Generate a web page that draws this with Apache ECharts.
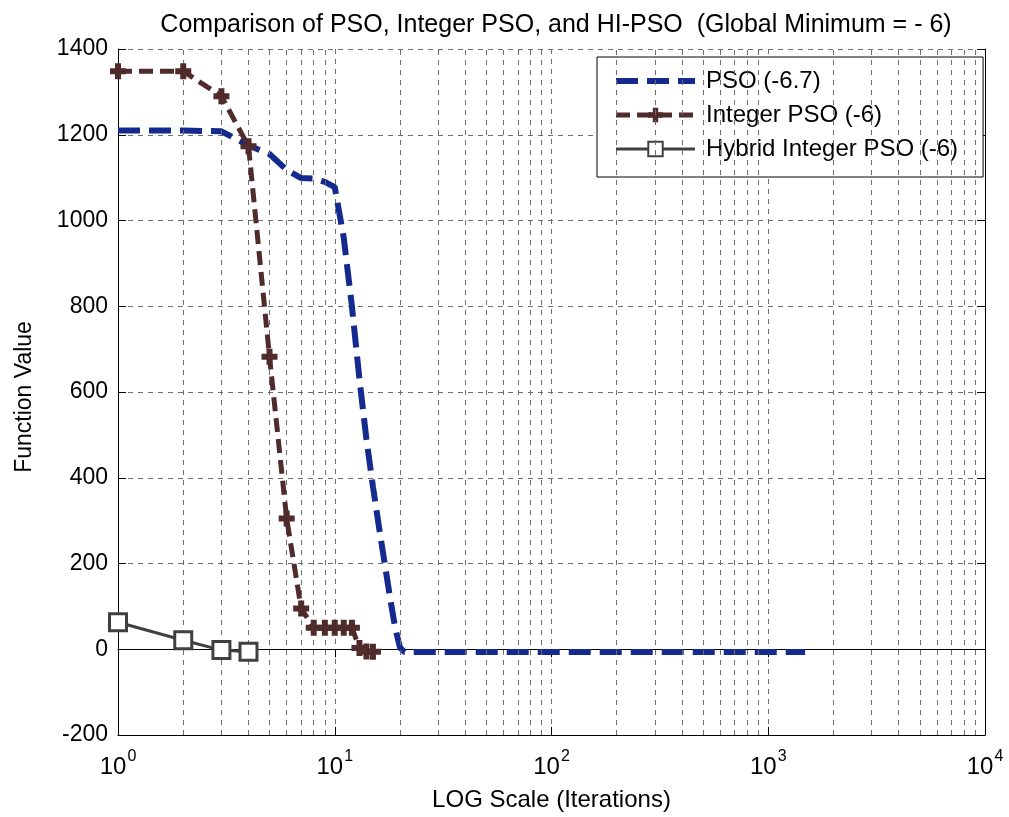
<!DOCTYPE html>
<html>
<head>
<meta charset="utf-8">
<script src="https://cdn.jsdelivr.net/npm/echarts@6/dist/echarts.min.js"></script>
<style>
  html, body { margin: 0; padding: 0; background: #fff; }
  #chart { width: 1009px; height: 817px; }
</style>
</head>
<body>
<div id="chart"></div>
<script>
// iterations (x, log scale) and function values
const psoIter = [1, 2, 3, 4, 5, 6, 7, 8, 9, 10, 11, 12, 13, 14, 15, 16, 17, 18, 19, 20, 21, 22, 1480];
const psoVal = [1210, 1210, 1208, 1175, 1155, 1118, 1099, 1098, 1090, 1078, 960, 800, 630, 490, 380, 285, 200, 120, 50, 4, -6.7, -6.7, -6.7];

const intIter = [1, 2, 3, 4, 5, 6, 7, 8, 9, 10, 11, 12, 13, 14, 15];
const intVal = [1348, 1348, 1290, 1173, 682, 305, 95, 50, 50, 50, 50, 50, 3, -5, -6];

const hybIter = [1, 2, 3, 4];
const hybVal = [63, 21, -2, -6];

const seriesNames = ["PSO (-6.7)", "Integer PSO (-6)", "Hybrid Integer PSO (-6)"];

const FONT = "Liberation Sans";
const GRIDLINE = { color: "#6e6e6e", width: 1, type: [5, 5] };
const PSO_COLOR = "#142a8f";
const INT_COLOR = "#4f2b2b";
const HYB_COLOR = "#404040";
const PLUS = "path://M5,0h6v5h5v6h-5v5h-6v-5h-5v-6h5z";

// minor log grid lines at 2..9 of every decade
const minorLines = [];
for (let d = 0; d < 4; d++) {
  for (let k = 2; k <= 9; k++) {
    minorLines.push({ xAxis: k * Math.pow(10, d) });
  }
}

const zip = (xs, ys) => xs.map((x, i) => [x, ys[i]]);

const chart = echarts.init(document.getElementById("chart"), null, { renderer: "canvas" });

const option = {
  backgroundColor: "#fff",
  animation: false,
  textStyle: { fontFamily: FONT },
  title: {
    text: "Comparison of PSO, Integer PSO, and HI-PSO  (Global Minimum = - 6)",
    left: 551,
    textAlign: "center",
    top: 8,
    textStyle: { fontFamily: FONT, fontSize: 25, fontWeight: "normal", color: "#000" },
  },
  grid: { left: 118, right: 24, top: 49, bottom: 82 },
  legend: {
    data: [
      { name: seriesNames[0], itemStyle: { opacity: 0 }, lineStyle: { width: 6, type: [22, 9] } },
      { name: seriesNames[1], lineStyle: { width: 5, type: [14, 7] } },
      { name: seriesNames[2], lineStyle: { width: 3 } },
    ],
    orient: "vertical",
    left: 597,
    top: 57,
    backgroundColor: "#fff",
    borderColor: "#000",
    borderWidth: 1,
    borderRadius: 0,
    padding: [12, 25, 16, 16],
    itemWidth: 79,
    itemHeight: 18,
    itemGap: 10,
    textStyle: { fontFamily: FONT, fontSize: 24, color: "#000", padding: [0, 0, 0, 6] },
  },
  xAxis: [
    {
      type: "log",
      logBase: 10,
      min: 1,
      max: 10000,
      name: "LOG Scale (Iterations)",
      nameLocation: "middle",
      nameGap: 53,
      nameTextStyle: { fontFamily: FONT, fontSize: 24, color: "#000" },
      axisLine: { onZero: false, lineStyle: { color: "#000", width: 1 } },
      axisTick: { inside: true, length: 8, lineStyle: { color: "#000" } },
      axisLabel: {
        margin: 14,
        color: "#000",
        formatter: (v) => "{b|10}{s|" + Math.round(Math.log10(v)) + "}",
        rich: {
          b: { fontFamily: FONT, fontSize: 24, color: "#000", verticalAlign: "bottom" },
          s: { fontFamily: FONT, fontSize: 16, color: "#000", verticalAlign: "top", padding: [0, 0, 14, 1] },
        },
      },
      splitLine: { show: true, lineStyle: GRIDLINE },
    },
    {
      type: "log",
      logBase: 10,
      min: 1,
      max: 10000,
      position: "top",
      axisLine: { lineStyle: { color: "#000", width: 1 } },
      axisTick: { inside: true, length: 8, lineStyle: { color: "#000" } },
      axisLabel: { show: false },
      splitLine: { show: false },
    },
  ],
  yAxis: [
    {
      type: "value",
      min: -200,
      max: 1400,
      interval: 200,
      name: "Function Value",
      nameLocation: "middle",
      nameGap: 82,
      nameTextStyle: { fontFamily: FONT, fontSize: 23, color: "#000", padding: [0, 10, 0, 0] },
      axisLine: { show: true, onZero: false, lineStyle: { color: "#000", width: 1 } },
      axisTick: { show: true, inside: true, length: 8, lineStyle: { color: "#000" } },
      axisLabel: { fontFamily: FONT, fontSize: 23, color: "#000", margin: 10, formatter: (v) => String(v) },
      splitLine: { show: true, lineStyle: GRIDLINE },
    },
    {
      type: "value",
      min: -200,
      max: 1400,
      interval: 200,
      position: "right",
      axisLine: { show: true, lineStyle: { color: "#000", width: 1 } },
      axisTick: { show: true, inside: true, length: 8, lineStyle: { color: "#000" } },
      axisLabel: { show: false },
      splitLine: { show: false },
    },
  ],
  series: [
    {
      // minor grid lines only
      name: "grid",
      type: "line",
      data: [],
      silent: true,
      markLine: {
        silent: true,
        symbol: "none",
        label: { show: false },
        lineStyle: GRIDLINE,
        data: minorLines,
      },
    },
    {
      name: seriesNames[0],
      type: "line",
      data: zip(psoIter, psoVal),
      showSymbol: false,
      symbol: "none",
      lineStyle: { color: PSO_COLOR, width: 6, type: [22, 9] },
      itemStyle: { color: PSO_COLOR },
      z: 4,
    },
    {
      name: seriesNames[1],
      type: "line",
      data: zip(intIter, intVal),
      symbol: PLUS,
      symbolSize: 16,
      showAllSymbol: true,
      lineStyle: { color: INT_COLOR, width: 5, type: [14, 7] },
      itemStyle: { color: INT_COLOR },
      z: 5,
    },
    {
      name: seriesNames[2],
      type: "line",
      data: zip(hybIter, hybVal),
      symbol: "rect",
      symbolSize: 17,
      showAllSymbol: true,
      lineStyle: { color: HYB_COLOR, width: 3, type: "solid" },
      itemStyle: { color: "#fff", borderColor: HYB_COLOR, borderWidth: 3 },
      z: 6,
    },
  ],
};

chart.setOption(option);
</script>
</body>
</html>
